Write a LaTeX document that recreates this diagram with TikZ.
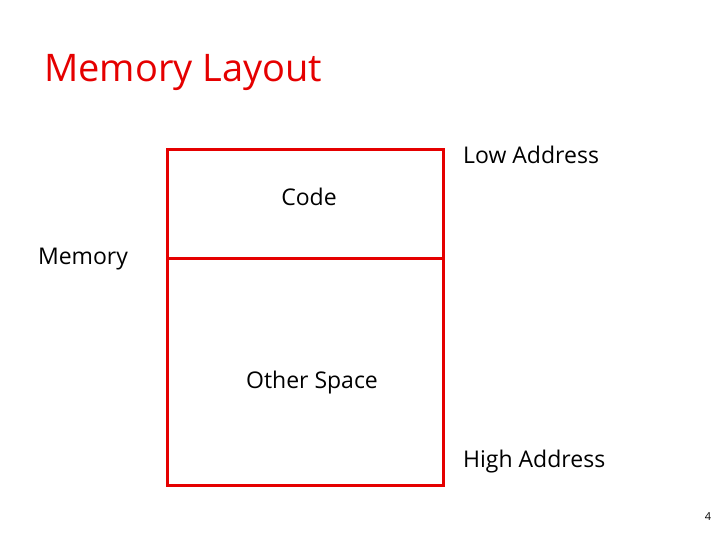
\documentclass[tikz,border=0pt]{standalone}
\usepackage{fontspec}
\setmainfont{Open Sans}
\begin{document}
\begin{tikzpicture}[x=1pt,y=-1pt,
  lbl/.style={font=\fontsize{23}{26}\selectfont, inner sep=0pt},
  box/.style={draw=red!90!black, line width=3pt}]
\useasboundingbox (0,0) rectangle (720,540);
\node[anchor=west, text=red!90!black, font=\fontsize{38}{42}\selectfont, inner sep=0pt] (title) at (44,73) {Memory Layout};
\draw[box] (167,150) rectangle (443,485);
\draw[box] (167,258) -- (443,258);
\node[lbl] (code) at (309,197) {Code};
\node[lbl] (mem) at (83,259) {Memory};
\node[lbl] (other) at (312,383) {Other Space};
\node[lbl, anchor=west] (low) at (463,155) {Low Address};
\node[lbl, anchor=west] (high) at (463,462) {High Address};
\node[font=\fontsize{11}{12}\selectfont, inner sep=0pt] (pg) at (708,517) {4};
\end{tikzpicture}
\end{document}
